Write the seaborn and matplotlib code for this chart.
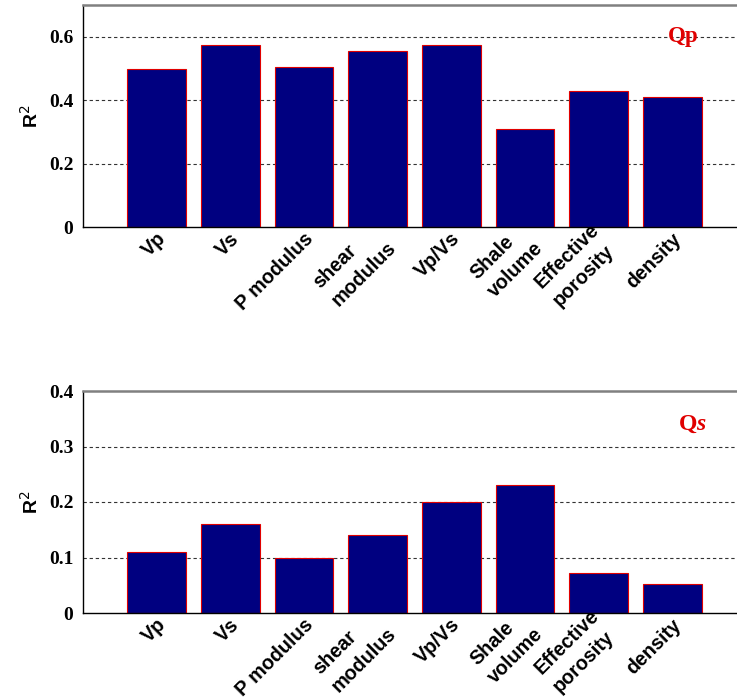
import matplotlib
matplotlib.use("Agg")
import matplotlib.pyplot as plt
import matplotlib.transforms as mtransforms
import seaborn as sns
import pandas as pd

# Attributes compared against the two quality factors
categories = ["Vp", "Vs", "P modulus", "shear\nmodulus", "Vp/Vs",
              "Shale\nvolume", "Effective\nporosity", "density"]

# Coefficient of determination for Qp and Qs
r2_qp = [0.498, 0.575, 0.506, 0.556, 0.575, 0.310, 0.429, 0.409]
r2_qs = [0.110, 0.160, 0.100, 0.140, 0.200, 0.230, 0.072, 0.053]

qp_ticks = [0, 0.2, 0.4, 0.6]
qp_tick_labels = ["0", "0.2", "0.4", "0.6"]
qs_ticks = [0, 0.1, 0.2, 0.3, 0.4]
qs_tick_labels = ["0", "0.1", "0.2", "0.3", "0.4"]

sns.set_theme(style="white")
plt.rcParams.update({
    "text.color": "black",
    "xtick.color": "black",
    "ytick.color": "black",
    "axes.labelcolor": "black",
    "mathtext.fontset": "custom",
    "mathtext.rm": "Liberation Serif:bold",
    "mathtext.it": "Liberation Serif:italic:bold",
    "mathtext.bf": "Liberation Serif:bold",
})

W, H = 737, 700
fig = plt.figure(figsize=(W / 100, H / 100), dpi=100)

# axes boxes in pixels: left, top, right, bottom
boxes = [(83, 5, 746, 227), (83, 391, 746, 613)]

panels = [
    (r2_qp, (0, 0.7), qp_ticks, qp_tick_labels, "Qp", (0.905, 0.856), 16.5),
    (r2_qs, (0, 0.4), qs_ticks, qs_tick_labels, r"$\mathrm{Q}\mathit{s}$",
     (0.9186, 0.851), 17),
]

for (l, t, r, b), (vals, ylim, ticks, tlabels, tag, tag_xy, tag_size) in zip(boxes, panels):
    ax = fig.add_axes([l / W, 1 - b / H, (r - l) / W, (b - t) / H])
    df = pd.DataFrame({"attribute": categories, "r2": vals})
    sns.barplot(data=df, x="attribute", y="r2", ax=ax, color="#000080",
                saturation=1, width=0.8, edgecolor="#e00000", linewidth=0.8)
    ax.set_xlim(-1, 8)
    ax.set_ylim(*ylim)
    ax.set_yticks(ticks)
    ax.set_yticklabels(tlabels, fontfamily="Liberation Serif",
                       fontweight="bold", fontsize=14)
    for y in ticks[1:]:
        if y < ylim[1] - 1e-9:
            ax.axhline(y, color="#333333", lw=0.8, ls=(0, (3, 2.5)), zorder=0)

    # rotated category labels, drawn below each bar
    ax.set_xticks(range(len(categories)))
    ax.set_xticklabels([])
    shift = mtransforms.ScaledTranslation(6 / 100, -9 / 100, fig.dpi_scale_trans)
    for i, name in enumerate(categories):
        ax.text(i, 0, name, transform=ax.get_xaxis_transform() + shift,
                rotation=45, ha="right", va="center", rotation_mode="anchor",
                multialignment="left", linespacing=1.45,
                fontfamily="Liberation Sans", fontweight="bold", fontsize=14.2)

    ax.tick_params(axis="both", length=0)
    ax.tick_params(axis="y", pad=7)
    ax.set_xlabel("")
    ax.set_ylabel(r"R$^{2}$", fontfamily="Liberation Sans", fontweight="bold",
                  fontsize=14)
    ax.yaxis.label.set_math_fontfamily("dejavusans")
    ax.yaxis.set_label_coords(-0.062, 0.5)

    for side in ["left", "bottom"]:
        ax.spines[side].set_color("black")
        ax.spines[side].set_linewidth(1.0)
    ax.spines["top"].set_color("#808080")
    ax.spines["top"].set_linewidth(1.8)
    ax.spines["right"].set_visible(False)
    ax.set_facecolor("white")

    # panel tag
    ax.text(*tag_xy, tag, transform=ax.transAxes, color="#e00000",
            fontfamily="Liberation Serif", fontweight="bold",
            fontsize=tag_size, ha="center", va="center")

fig.savefig("out.png", dpi=100, facecolor="white")
